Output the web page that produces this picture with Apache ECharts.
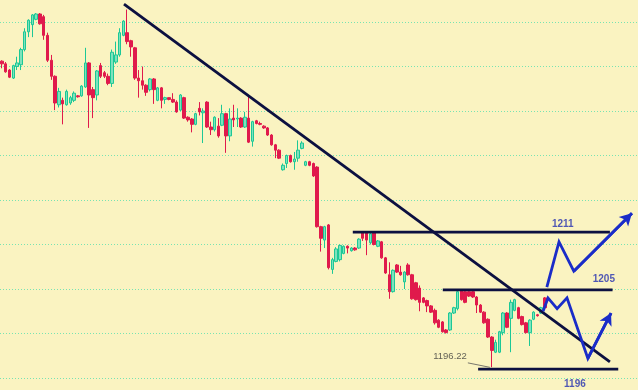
<!DOCTYPE html>
<html>
<head>
<meta charset="utf-8">
<script src="https://cdn.jsdelivr.net/npm/echarts@6/dist/echarts.min.js"></script>
<style>
html,body{margin:0;padding:0;background:#faf3c1;}
#chart{width:638px;height:390px;}
</style>
</head>
<body>
<div id="chart"></div>
<script>
// ---- data ----
// candle: [open, close, lowest, highest]
const candles = [
[1230.6,1230.3,1229.8,1230.7],[1230.3,1229.4,1229.3,1230.5],[1229.6,1228.8,1228.7,1229.7],[1228.7,1230.1,1228.6,1230.2],
[1230.0,1230.4,1229.6,1231.1],[1230.2,1231.9,1229.6,1232.1],[1231.9,1233.9,1231.7,1234.3],[1233.9,1235.2,1233.3,1235.3],
[1234.7,1235.8,1233.3,1235.9],[1235.3,1235.9,1235.2,1236.0],[1235.9,1234.8,1234.7,1236.0],[1235.6,1233.5,1233.0,1235.8],
[1233.5,1230.7,1230.5,1233.8],[1230.7,1228.9,1228.5,1231.3],[1228.9,1225.9,1225.1,1229.0],[1225.7,1227.2,1225.4,1227.6],
[1226.2,1225.8,1223.5,1226.5],[1225.7,1227.2,1225.6,1227.4],[1225.9,1226.5,1225.7,1226.7],[1226.2,1227.0,1226.0,1227.2],
[1226.7,1226.6,1226.5,1226.8],[1226.7,1227.8,1226.6,1227.9],[1227.7,1230.4,1227.6,1232.1],[1230.4,1226.8,1223.1,1230.5],
[1227.4,1226.5,1224.2,1227.7],[1226.8,1229.5,1226.2,1229.6],[1230.1,1228.9,1228.7,1230.4],[1229.3,1228.9,1228.7,1229.5],
[1228.9,1228.1,1227.9,1229.2],[1228.1,1231.6,1227.7,1231.9],[1230.5,1231.3,1230.3,1232.8],[1231.3,1233.8,1231.1,1234.3],
[1233.5,1235.1,1233.4,1235.2],[1233.8,1232.8,1232.5,1236.4],[1232.9,1232.2,1231.1,1233.0],[1232.1,1228.7,1228.5,1232.2],
[1228.7,1228.4,1226.5,1229.6],[1228.4,1227.9,1227.4,1230.0],[1227.9,1227.1,1226.7,1228.0],[1227.4,1228.6,1227.2,1228.7],
[1228.6,1227.4,1225.8,1228.7],[1226.2,1227.6,1226.1,1227.7],[1227.6,1226.2,1225.3,1227.7],[1226.3,1226.5,1225.8,1226.6],
[1226.5,1226.3,1226.2,1226.5],[1226.3,1226.0,1225.9,1227.0],[1226.0,1224.9,1224.8,1226.2],[1225.1,1226.8,1225.0,1226.9],
[1226.5,1224.2,1224.1,1226.6],[1224.3,1224.0,1223.8,1224.4],[1224.1,1223.5,1222.6,1224.2],[1223.5,1224.7,1223.4,1224.8],
[1225.3,1224.9,1224.5,1226.0],[1224.8,1225.0,1221.4,1225.3],[1226.0,1223.2,1223.1,1226.1],[1223.2,1222.9,1222.3,1223.8],
[1222.9,1224.3,1222.7,1224.4],[1223.3,1222.2,1222.0,1224.2],[1223.4,1224.7,1223.3,1225.7],[1224.7,1222.2,1220.3,1224.8],
[1222.2,1224.1,1221.6,1225.3],[1224.2,1224.0,1223.2,1225.7],[1224.1,1224.2,1223.2,1225.3],[1224.2,1223.2,1223.1,1224.3],
[1223.2,1224.3,1223.1,1224.9],[1224.2,1221.5,1221.4,1226.6],[1221.6,1223.8,1221.0,1223.9],[1223.9,1223.6,1223.5,1224.0],
[1223.6,1223.5,1223.4,1223.8],[1223.3,1223.1,1223.0,1223.4],[1223.1,1222.3,1222.2,1223.2],[1222.3,1221.2,1221.1,1222.4],
[1221.2,1220.6,1219.7,1221.3],[1220.6,1219.7,1219.6,1220.7],[1218.4,1218.9,1218.3,1219.1],[1219.1,1220.0,1218.6,1220.1],
[1220.0,1219.3,1219.2,1220.1],[1219.3,1219.6,1218.4,1220.4],[1219.7,1220.6,1219.3,1221.7],[1220.8,1221.4,1220.7,1221.6],
[1218.9,1219.3,1218.8,1219.4],[1219.3,1218.9,1218.8,1219.4],[1219.1,1217.7,1217.6,1219.2],[1218.7,1212.0,1211.9,1218.8],
[1212.0,1210.7,1209.2,1212.1],[1210.5,1212.0,1209.6,1212.1],[1212.2,1207.4,1207.2,1212.3],[1207.2,1208.3,1206.7,1208.5],
[1208.1,1209.5,1208.0,1209.7],[1208.3,1209.9,1208.1,1210.0],[1209.0,1209.8,1208.9,1209.9],[1209.8,1209.6,1209.0,1209.9],
[1209.3,1209.6,1209.2,1209.7],[1209.6,1209.4,1209.3,1209.7],[1209.6,1210.6,1209.5,1210.7],[1211.3,1210.7,1210.4,1211.4],
[1211.3,1210.5,1208.8,1211.4],[1210.2,1211.2,1210.0,1211.4],[1211.3,1210.0,1209.9,1211.4],[1209.8,1210.4,1209.7,1210.5],
[1210.3,1208.5,1208.4,1210.4],[1208.5,1206.8,1206.7,1208.6],[1206.6,1204.7,1203.9,1208.0],[1204.7,1207.1,1204.6,1207.2],
[1207.7,1206.9,1206.8,1207.8],[1206.9,1206.6,1206.5,1207.6],[1205.8,1206.9,1205.0,1207.0],[1207.7,1206.6,1206.5,1207.9],
[1206.6,1203.9,1203.8,1206.7],[1205.7,1203.8,1203.7,1205.8],[1205.1,1203.5,1202.5,1205.4],[1204.0,1203.5,1203.4,1204.1],
[1203.7,1203.1,1202.4,1203.8],[1203.1,1202.4,1202.3,1203.2],[1202.6,1201.2,1201.0,1202.8],[1201.5,1200.7,1200.6,1201.6],
[1201.3,1200.2,1200.1,1201.4],[1200.4,1200.1,1200.0,1200.5],[1200.4,1202.3,1200.3,1202.4],[1202.3,1202.9,1202.2,1203.0],
[1202.8,1204.7,1202.6,1204.8],[1204.8,1203.8,1203.7,1204.9],[1204.7,1203.5,1203.4,1204.8],[1204.7,1204.2,1204.1,1204.8],
[1204.7,1204.1,1204.0,1204.8],[1204.1,1203.2,1202.3,1204.2],[1203.2,1202.4,1202.3,1203.3],[1202.4,1201.2,1201.1,1202.5],
[1201.6,1199.6,1199.5,1201.7],[1199.6,1198.1,1196.22,1199.7],[1197.9,1199.0,1197.8,1199.3],[1197.9,1200.2,1197.8,1200.3],
[1200.1,1202.3,1199.8,1202.4],[1202.3,1200.7,1200.6,1202.4],[1201.7,1203.5,1197.9,1203.8],[1202.6,1203.8,1202.5,1203.9],
[1202.9,1201.7,1201.6,1203.0],[1201.9,1201.0,1200.9,1202.0],[1201.2,1200.1,1200.0,1201.3],[1200.1,1201.5,1198.6,1201.6],
[1201.6,1202.4,1201.5,1202.5],[1202.1,1202.0,1201.9,1202.2],[1202.3,1202.9,1202.2,1203.0],[1204.0,1202.9,1202.8,1204.1]
];
const slotCount = 168; // candle slots incl. empty projection area
const categories = Array.from({length: slotCount}, (_, i) => 'K' + (i + 1));

// annotation lines: [slotIndex, price]
const trendLine = [[32.15, 1237.0], [160.1, 1196.8]];
const level1211 = [[92.4, 1211.4], [160.1, 1211.4]];
const level1205 = [[116.1, 1204.9], [160.8, 1204.9]];
const level1196 = [[125.4, 1196.0], [162.3, 1196.0]];
const lowLeader = [[122.7, 1196.7], [128.5, 1196.2]];
// projected paths
const pathUp = [[143.5, 1205.2], [146.7, 1210.3], [150.6, 1207.0], [165.9, 1213.5]];
const pathDown = [[142.5, 1202.5], [143.8, 1204.0], [146.2, 1202.8], [148.8, 1204.0], [154.3, 1197.2], [160.4, 1202.3]];
// text labels: [slotIndex, price, text]
const levelLabels = [[147.7, 1212.3, '1211'], [158.5, 1206.1, '1205'], [150.9, 1194.3, '1196']];
const lowLabel = [118.0, 1197.4, '1196.22'];
// y ticks
const yMin = 1190, yMax = 1240, yStep = 5;

const chart = echarts.init(document.getElementById('chart'), null, {renderer: 'canvas'});
const navy = '#0c1040';
const blue = '#1a2cc8';
function seg(data, color, width) {
  return {type: 'line', xAxisIndex: 1, yAxisIndex: 0, data: data, symbol: 'none', silent: true,
    lineStyle: {color: color, width: width, join: 'miter'}, z: 5};
}
function arrowHead(data, color, width) {
  const a = data[data.length - 2], b = data[data.length - 1];
  return {type: 'line', xAxisIndex: 1, data: [], symbol: 'none', silent: true,
    markLine: {symbol: ['none', 'arrow'], symbolSize: [10, 12], silent: true, animation: false,
      label: {show: false}, lineStyle: {color: color, width: width, type: 'solid'},
      data: [[{coord: a}, {coord: b}]]}, z: 6};
}
chart.setOption({
  animation: false,
  backgroundColor: '#faf3c1',
  grid: {left: 0, right: 0, top: -22.5, bottom: -32.5, outerBoundsMode: 'none', containLabel: false},
  xAxis: [
    {type: 'category', data: categories, boundaryGap: true, show: false},
    {type: 'value', min: -0.5, max: slotCount - 0.5, show: false}
  ],
  yAxis: {type: 'value', min: yMin, max: yMax, interval: yStep,
    axisLine: {show: false}, axisTick: {show: false}, axisLabel: {show: false},
    splitLine: {show: true, lineStyle: {color: '#78e4b2', width: 1, type: [1, 2]}}},
  series: [
    {type: 'candlestick', data: candles, barWidth: 3, xAxisIndex: 0,
      itemStyle: {color: '#7ee2bc', color0: '#e01a4c', borderColor: '#1cc896', borderColor0: '#e01a4c', borderWidth: 1}},
    seg(trendLine, navy, 2.8),
    seg(level1211, navy, 2.8),
    seg(level1205, navy, 2.8),
    seg(level1196, navy, 2.8),
    seg(lowLeader, '#555555', 0.8),
    seg(pathUp, blue, 2.8),
    seg(pathDown, blue, 2.8),
    arrowHead(pathUp, blue, 2.8),
    arrowHead(pathDown, blue, 2.8),
    {type: 'scatter', xAxisIndex: 1, symbolSize: 0, silent: true, z: 7,
      data: levelLabels.map(d => ({value: [d[0], d[1]], label: {formatter: d[2]}})),
      label: {show: true, position: 'inside', color: '#2430b0', fontWeight: 'bold', fontSize: 10,
        fontFamily: 'Liberation Sans, Arial, sans-serif'}},
    {type: 'scatter', xAxisIndex: 1, symbolSize: 0, silent: true, z: 7,
      data: [{value: [lowLabel[0], lowLabel[1]], label: {formatter: lowLabel[2]}}],
      label: {show: true, position: 'inside', color: '#3a3a3a', fontSize: 9.5,
        fontFamily: 'Liberation Sans, Arial, sans-serif'}}
  ]
});
</script>
</body>
</html>
